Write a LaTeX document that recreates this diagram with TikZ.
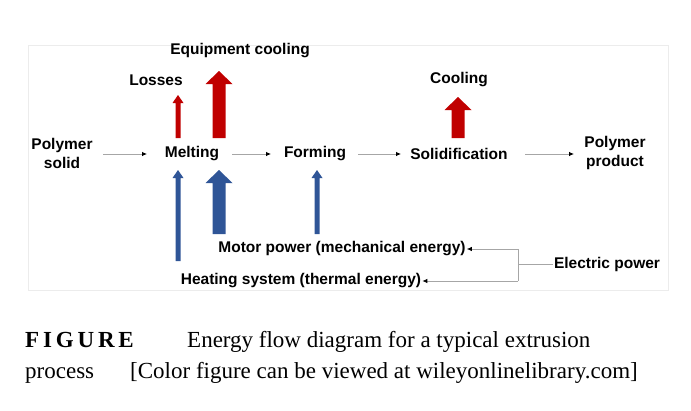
\documentclass[tikz,border=0pt]{standalone}
\usepackage{fontspec}
\setmainfont{Liberation Sans}
\newfontfamily\capfont{Liberation Serif}
\usetikzlibrary{arrows.meta}
\definecolor{fred}{HTML}{C00000}
\definecolor{fblue}{HTML}{2F5597}
\newcommand{\fatarrow}[7]{% x, ybottom, ytop, shaft, head, headlen, color
 \fill[#7] (#1-#4/2,#2) -- (#1-#4/2,#3+#6) -- (#1-#5/2,#3+#6) -- (#1,#3) -- (#1+#5/2,#3+#6) -- (#1+#4/2,#3+#6) -- (#1+#4/2,#2) -- cycle;}
\begin{document}
\begin{tikzpicture}[x=1pt,y=-1pt,
 lbl/.style={font=\fontsize{15.5}{19}\selectfont\bfseries,align=center,inner sep=1pt},
 flow/.style={draw=gray!70,line width=0.8pt,-{Latex[length=5pt,width=4.5pt,black]}},
 captxt/.style={anchor=base west,inner sep=0pt,font=\capfont\fontsize{23}{27}\selectfont}]
\useasboundingbox (0,0) rectangle (691,410);
\draw[gray!15,line width=0.6pt] (28,45) rectangle (668,290);
\node[lbl] (ps) at (62,153) {Polymer\\solid};
\node[lbl] (mel) at (192,154) {Melting};
\node[lbl] (for) at (315,154) {Forming};
\node[lbl] (sol) at (459,154) {Solidification};
\node[lbl] (pp) at (615,153) {Polymer\\product};
\node[lbl] (eq) at (240,51) {Equipment cooling};
\node[lbl] (los) at (156,80) {Losses};
\node[lbl] (coo) at (459,80) {Cooling};
\node[lbl] (mot) at (342,249) {Motor power (mechanical energy)};
\node[lbl] (hea) at (301,281) {Heating system (thermal energy)};
\node[lbl] (ele) at (607,264) {Electric power};
\coordinate (j) at (518,264);
\coordinate (jt) at (518,249);
\coordinate (jb) at (518,281);
\draw[flow] (103,154) -- (147,154);
\draw[flow] (232,154) -- (271,154);
\draw[flow] (358,154) -- (401,154);
\draw[flow] (525,154) -- (574,154);
\draw[gray!70,line width=0.8pt] (ele.west) -- (j);
\draw[gray!70,line width=0.8pt] (jt) -- (jb);
\draw[flow] (jt) -- (mot.east);
\draw[flow] (jb) -- (hea.east);
\fatarrow{178}{138}{95}{5}{11}{8}{fred}
\fatarrow{219}{138}{71}{13}{27}{13}{fred}
\fatarrow{458}{138}{97}{13}{27}{13}{fred}
\fatarrow{178}{261}{170}{5}{11}{8}{fblue}
\fatarrow{219}{234}{170}{13}{27}{13}{fblue}
\fatarrow{317}{234}{170}{5}{11}{8}{fblue}
\node[captxt] (c1) at (25,347) {\textbf{F\,I\,G\,U\,R\,E}};
\node[captxt] (c2) at (187,347) {Energy flow diagram for a typical extrusion};
\node[captxt] (c3) at (25,378) {process};
\node[captxt] (c4) at (130,378) {[Color figure can be viewed at wileyonlinelibrary.com]};
\end{tikzpicture}
\end{document}
